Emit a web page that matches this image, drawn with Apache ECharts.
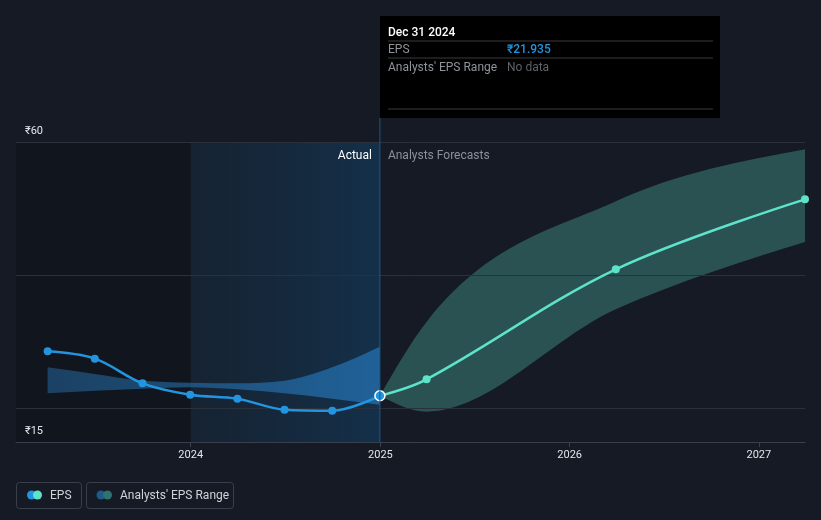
<!DOCTYPE html>
<html>
<head>
<meta charset="utf-8">
<script src="https://cdn.jsdelivr.net/npm/echarts@6/dist/echarts.min.js"></script>
<style>
html,body{margin:0;padding:0;background:#151a24;}
#main{width:821px;height:520px;}
</style>
</head>
<body>
<div id="main"></div>
<script>
// ---- data ----
const actualDates = ['2023-03-31','2023-06-30','2023-09-30','2023-12-31','2024-03-31','2024-06-30','2024-09-30','2024-12-31'];
const epsActual = [28.6, 27.5, 23.8, 22.1, 21.5, 19.85, 19.7, 21.935];
const pastRangeLow = [22.3, 22.7, 23.0, 23.2, 22.9, 22.3, 21.5, 20.6];
const pastRangeHigh = [26.2, 25.2, 24.2, 23.9, 23.8, 24.2, 26.2, 29.3];
const forecastDates = ['2024-12-31','2025-03-31','2026-03-31','2027-03-31'];
const epsForecast = [21.935, 24.4, 40.9, 51.4];
const rangeLow = [21.935, 19.55, 34.9, 45.0];
const rangeHigh = [21.935, 33.0, 51.1, 58.9];
const yearTicks = ['2024-01-01','2025-01-01','2026-01-01','2027-01-01'];
const yLabelValues = [15, 60];
const gridValues = [20, 40, 60];
const axisStart = '2023-01-29';
const axisEnd = '2027-03-31';
const todayDate = '2024-12-31';

const FONT = 'Roboto, "Noto Sans", sans-serif';
const ts = s => { const p = s.split('-').map(Number); return Date.UTC(p[0], p[1] - 1, p[2]); };

const chart = echarts.init(document.getElementById('main'), null, {renderer: 'canvas'});
const pair = (d, v) => d.map((x, i) => [ts(x), v[i]]);

// monotone-x cubic segments through pixel points
function monoSegs(p) {
  const n = p.length, t = new Array(n).fill(0);
  const sgn = v => v < 0 ? -1 : (v > 0 ? 1 : 0);
  for (let i = 1; i < n - 1; i++) {
    const h0 = p[i][0] - p[i - 1][0], h1 = p[i + 1][0] - p[i][0];
    const s0 = (p[i][1] - p[i - 1][1]) / h0, s1 = (p[i + 1][1] - p[i][1]) / h1;
    const q = (s0 * h1 + s1 * h0) / (h0 + h1);
    t[i] = (sgn(s0) + sgn(s1)) * Math.min(Math.abs(s0), Math.abs(s1), 0.5 * Math.abs(q)) || 0;
  }
  if (n > 2) {
    const h = p[1][0] - p[0][0];
    t[0] = (3 * (p[1][1] - p[0][1]) / h - t[1]) / 2;
    const g = p[n - 1][0] - p[n - 2][0];
    t[n - 1] = (3 * (p[n - 1][1] - p[n - 2][1]) / g - t[n - 2]) / 2;
  } else if (n === 2) {
    t[0] = t[1] = (p[1][1] - p[0][1]) / (p[1][0] - p[0][0]);
  }
  const segs = [];
  for (let i = 0; i < n - 1; i++) {
    const dx = (p[i + 1][0] - p[i][0]) / 3;
    segs.push([p[i], [p[i][0] + dx, p[i][1] + dx * t[i]], [p[i + 1][0] - dx, p[i + 1][1] - dx * t[i + 1]], p[i + 1]]);
  }
  return segs;
}
const pt = a => a[0] + ',' + a[1];
function bandSeries(name, dates, lo, hi, fill) {
  return {
    name: name, type: 'custom', silent: true, z: 2, clip: true,
    data: [[ts(dates[0]), lo[0]]],
    renderItem: function (params, api) {
      const up = monoSegs(dates.map((d, i) => api.coord([ts(d), hi[i]])));
      const dn = monoSegs(dates.map((d, i) => api.coord([ts(d), lo[i]])));
      let path = 'M' + pt(up[0][0]);
      up.forEach(s => { path += 'C' + pt(s[1]) + ' ' + pt(s[2]) + ' ' + pt(s[3]); });
      path += 'L' + pt(dn[dn.length - 1][3]);
      for (let i = dn.length - 1; i >= 0; i--) {
        const s = dn[i];
        path += 'C' + pt(s[2]) + ' ' + pt(s[1]) + ' ' + pt(s[0]);
      }
      path += 'Z';
      return {type: 'path', shape: {pathData: path}, style: {fill: fill, stroke: null}};
    }
  };
}

const option = {
  backgroundColor: '#151a24',
  animation: false,
  grid: {left: 16, right: 16, top: 142, bottom: 78},
  xAxis: {
    type: 'value',
    min: ts(axisStart),
    max: ts(axisEnd),
    axisLine: {lineStyle: {color: '#3a404b', width: 1}},
    axisTick: {show: true, length: 5, lineStyle: {color: '#3a404b'}, customValues: yearTicks.map(ts)},
    axisLabel: {
      customValues: yearTicks.map(ts),
      color: '#e4e6ea', fontSize: 11, fontFamily: FONT, margin: 8,
      formatter: v => String(new Date(v).getUTCFullYear())
    },
    splitLine: {show: false}
  },
  yAxis: {
    type: 'value',
    min: 15, max: 60, interval: 45,
    axisLine: {show: false},
    axisTick: {show: false},
    splitLine: {show: false},
    axisLabel: {show: false}
  },
  series: [
    {
      name: 'background', type: 'line', symbol: 'none', silent: true, z: 0,
      lineStyle: {opacity: 0},
      data: [[ts(actualDates[0]), epsActual[0]]],
      markArea: {
        silent: true,
        data: [
          [{xAxis: ts(axisStart), itemStyle: {color: '#11151d'}}, {xAxis: ts('2024-01-01')}],
          [{xAxis: ts('2024-01-01'), itemStyle: {color: new echarts.graphic.LinearGradient(0, 0, 1, 0, [
            {offset: 0, color: 'rgba(22,42,62,0.55)'}, {offset: 1, color: 'rgba(20,48,74,1)'}])}},
           {xAxis: ts(todayDate)}]
        ]
      },
      markLine: {
        silent: true, symbol: 'none',
        lineStyle: {color: '#2b313b', type: 'solid', width: 1},
        label: {show: false},
        data: gridValues.map(v => ({yAxis: v}))
      }
    },
    bandSeries('Analysts past range', actualDates, pastRangeLow, pastRangeHigh,
      new echarts.graphic.LinearGradient(0, 0, 1, 0, [
        {offset: 0, color: 'rgba(37,110,170,0.5)'}, {offset: 1, color: 'rgba(37,118,185,0.7)'}])),
    bandSeries("Analysts' EPS Range", forecastDates, rangeLow, rangeHigh, 'rgba(75,160,150,0.42)'),
    {
      name: 'EPS forecast', type: 'line', smooth: 0.35, z: 5,
      symbol: 'circle', symbolSize: 8,
      lineStyle: {color: '#5de3c9', width: 2.5},
      itemStyle: {color: '#5de3c9'},
      data: pair(forecastDates, epsForecast).map((p, i) => i === 0 ? {value: p, symbol: 'none'} : p)
    },
    {
      name: 'EPS', type: 'line', smooth: 0.35, z: 6,
      symbol: 'circle', symbolSize: 8,
      lineStyle: {color: '#2394df', width: 2.5},
      itemStyle: {color: '#2394df'},
      data: pair(actualDates, epsActual).map((p, i, a) => i === a.length - 1 ?
        {value: p, symbolSize: 10, itemStyle: {color: '#2394df', borderColor: '#ffffff', borderWidth: 1.5}} : p)
    }
  ]
};
chart.setOption(option);

// overlay: y labels, separator, tooltip box, labels, legend
const xs = chart.convertToPixel({xAxisIndex: 0}, ts(todayDate));
const yTop = chart.convertToPixel({yAxisIndex: 0}, 60);
const yBot = chart.convertToPixel({yAxisIndex: 0}, 15);
const tipL = Math.round(xs), tipT = 16, tipW = 340, tipH = 102;
const rowY = [33, 50, 68];
const yLabels = yLabelValues.map(v => ({
  type: 'text', z: 10, silent: true, x: 25, y: chart.convertToPixel({yAxisIndex: 0}, v) - 11,
  style: {text: '₹' + v, fill: '#e4e6ea', font: '11px ' + FONT, verticalAlign: 'middle'}
}));
chart.setOption({
  graphic: yLabels.concat([
    {type: 'line', silent: true, z: 10, shape: {x1: xs, y1: tipT + tipH, x2: xs, y2: yBot}, style: {stroke: '#1d5884', lineWidth: 1}},
    {type: 'text', z: 10, x: xs - 8, y: yTop + 14, style: {text: 'Actual', fill: '#ffffff', font: '12px ' + FONT, align: 'right', verticalAlign: 'middle'}},
    {type: 'text', z: 10, x: xs + 8, y: yTop + 14, style: {text: 'Analysts Forecasts', fill: '#8c9099', font: '12px ' + FONT, align: 'left', verticalAlign: 'middle'}},
    {type: 'group', z: 20, x: tipL, y: tipT, children: [
      {type: 'rect', shape: {x: 0, y: 0, width: tipW, height: tipH}, style: {fill: '#000000'}},
      {type: 'text', x: 8, y: rowY[0] - tipT, style: {text: 'Dec 31 2024', fill: '#ffffff', font: '500 12px ' + FONT, verticalAlign: 'middle'}},
      {type: 'line', shape: {x1: 8, y1: 25, x2: 333, y2: 25}, style: {stroke: '#3a3a3a', lineWidth: 1}},
      {type: 'text', x: 8, y: rowY[1] - tipT, style: {text: 'EPS', fill: '#8f939a', font: '12px ' + FONT, verticalAlign: 'middle'}},
      {type: 'text', x: 127, y: rowY[1] - tipT, style: {text: '₹21.935', fill: '#2394df', font: '500 12px ' + FONT, verticalAlign: 'middle'}},
      {type: 'line', shape: {x1: 8, y1: 42, x2: 333, y2: 42}, style: {stroke: '#3a3a3a', lineWidth: 1}},
      {type: 'text', x: 8, y: rowY[2] - tipT, style: {text: "Analysts' EPS Range", fill: '#8f939a', font: '12px ' + FONT, verticalAlign: 'middle'}},
      {type: 'text', x: 127, y: rowY[2] - tipT, style: {text: 'No data', fill: '#5d6168', font: '12px ' + FONT, verticalAlign: 'middle'}},
      {type: 'line', shape: {x1: 8, y1: 93, x2: 333, y2: 93}, style: {stroke: '#3a3a3a', lineWidth: 1}}
    ]},
    // legend
    {type: 'group', z: 20, x: 16, y: 482, children: [
      {type: 'rect', shape: {x: 0.5, y: 0.5, width: 65, height: 26, r: 3}, style: {fill: 'none', stroke: '#3a404b', lineWidth: 1}},
      {type: 'circle', shape: {cx: 15.5, cy: 13, r: 4.5}, style: {fill: '#2394df'}},
      {type: 'circle', shape: {cx: 21.5, cy: 13, r: 4.5}, style: {fill: '#5de3c9'}},
      {type: 'text', x: 34, y: 14, style: {text: 'EPS', fill: '#d0d3d8', font: '12px ' + FONT, verticalAlign: 'middle'}},
      {type: 'rect', shape: {x: 70.5, y: 0.5, width: 147, height: 26, r: 3}, style: {fill: 'none', stroke: '#3a404b', lineWidth: 1}},
      {type: 'circle', shape: {cx: 85, cy: 13, r: 4.5}, style: {fill: '#1f5b8a'}},
      {type: 'circle', shape: {cx: 91.5, cy: 13, r: 4.5}, style: {fill: '#2f736f'}},
      {type: 'text', x: 104, y: 14, style: {text: "Analysts' EPS Range", fill: '#d0d3d8', font: '12px ' + FONT, verticalAlign: 'middle'}}
    ]}
  ])
});
</script>
</body>
</html>
